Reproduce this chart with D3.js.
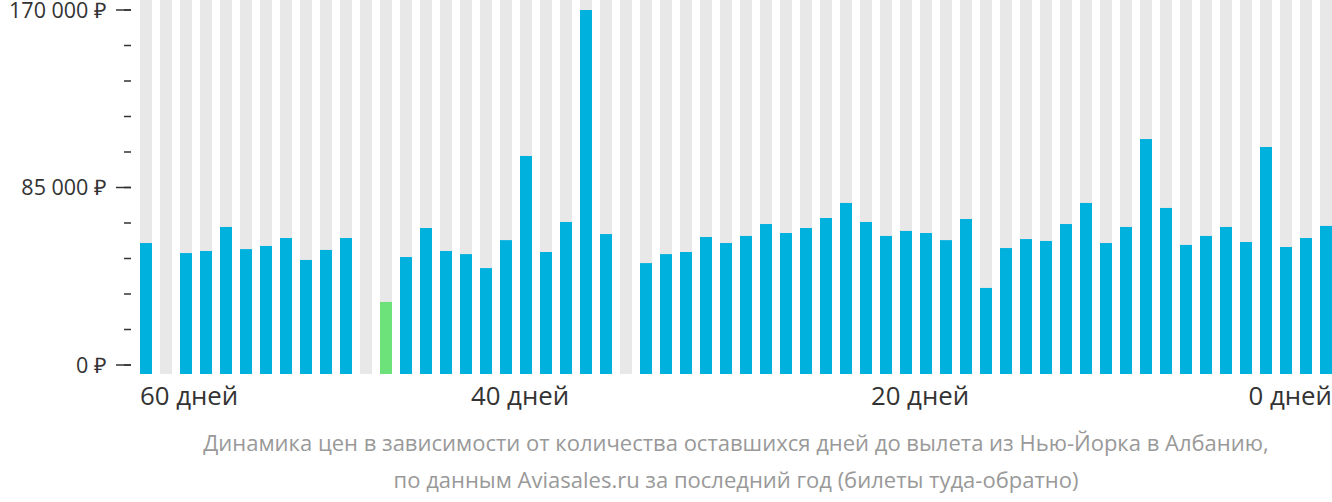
<!DOCTYPE html>
<html><head><meta charset="utf-8">
<script src="https://cdn.jsdelivr.net/npm/d3@7"></script>
<style>body{margin:0;background:#fff}text{font-family:"Open Sans",sans-serif}</style>
</head><body><svg id="c" width="1332" height="502"></svg>
<script>
// price per slot, 60 days -> 0 days (null = no data)
const prices = [58400,null,53600,54600,66100,55500,57000,60800,50300,55100,60800,null,30200,51700,65600,54600,53100,46400,59800,100100,
  54100,68500,170000,62700,null,48800,53100,54100,61300,58400,61800,67500,63200,65600,70400,77600,68500,61800,64200,63200,
  59800,69900,36900,56000,60300,59400,67500,77600,58400,66100,108200,75200,57500,61800,66100,58900,104400,56500,60800,66600];
const cheapestIdx = 12;
const majorTicks = [0, 85000, 170000];
const dayLabels = [{i: 0, t: '60 дней', a: 'start'}, {i: 19, t: '40 дней', a: 'middle'}, {i: 39, t: '20 дней', a: 'middle'}, {i: 59, t: '0 дней', a: 'end'}];
const caption = ['Динамика цен в зависимости от количества оставшихся дней до вылета из Нью-Йорка в Албанию,',
  'по данным Aviasales.ru за последний год (билеты туда-обратно)'];

const svg = d3.select('#c');
const x = d3.scaleBand().domain(d3.range(prices.length)).range([136, 1336]).paddingInner(0.4).paddingOuter(0.2);
const y = d3.scaleLinear().domain([0, 170000]).range([365, 10]);
const fmt = v => d3.format(',')(v).replace(/,/g, '\u00a0') + ' ₽';

// background stripes
svg.append('g').selectAll('rect').data(prices).join('rect')
  .attr('x', (d, i) => x(i)).attr('width', x.bandwidth())
  .attr('y', 0).attr('height', 374).attr('fill', '#e8e8e8');

// bars
svg.append('g').selectAll('rect').data(prices.map((v, i) => ({v, i})).filter(d => d.v != null)).join('rect')
  .attr('x', d => x(d.i)).attr('width', x.bandwidth())
  .attr('y', d => y(d.v)).attr('height', d => 374 - y(d.v))
  .attr('fill', d => d.i === cheapestIdx ? '#6ee27a' : '#00b0dd');

// y axis
const ya = svg.append('g');
ya.selectAll('line.minor').data(d3.range(0, 170001, 17000)).join('line')
  .attr('x1', 124).attr('x2', 131).attr('y1', d => y(d)).attr('y2', d => y(d))
  .attr('stroke', '#333').attr('stroke-width', 1.5);
ya.selectAll('line.major').data(majorTicks).join('line')
  .attr('x1', 116).attr('x2', 131).attr('y1', d => y(d)).attr('y2', d => y(d))
  .attr('stroke', '#333').attr('stroke-width', 1.5);
ya.selectAll('text').data(majorTicks).join('text')
  .attr('x', 107).attr('y', d => y(d)).attr('dy', '0.36em').attr('text-anchor', 'end')
  .attr('font-size', 21.5).attr('fill', '#333').text(fmt);

// x labels
svg.append('g').selectAll('text').data(dayLabels).join('text')
  .attr('x', d => d.a === 'start' ? x(d.i) : d.a === 'end' ? x(d.i) + x.bandwidth() : x(d.i))
  .attr('y', 405).attr('text-anchor', d => d.a)
  .attr('font-size', 25.8).attr('fill', '#333').text(d => d.t);

svg.append('g').selectAll('text').data(caption).join('text')
  .attr('x', 736).attr('y', (d, i) => 451 + i * 37).attr('text-anchor', 'middle')
  .attr('font-size', 22).attr('fill', '#999').text(d => d);
</script></body></html>
